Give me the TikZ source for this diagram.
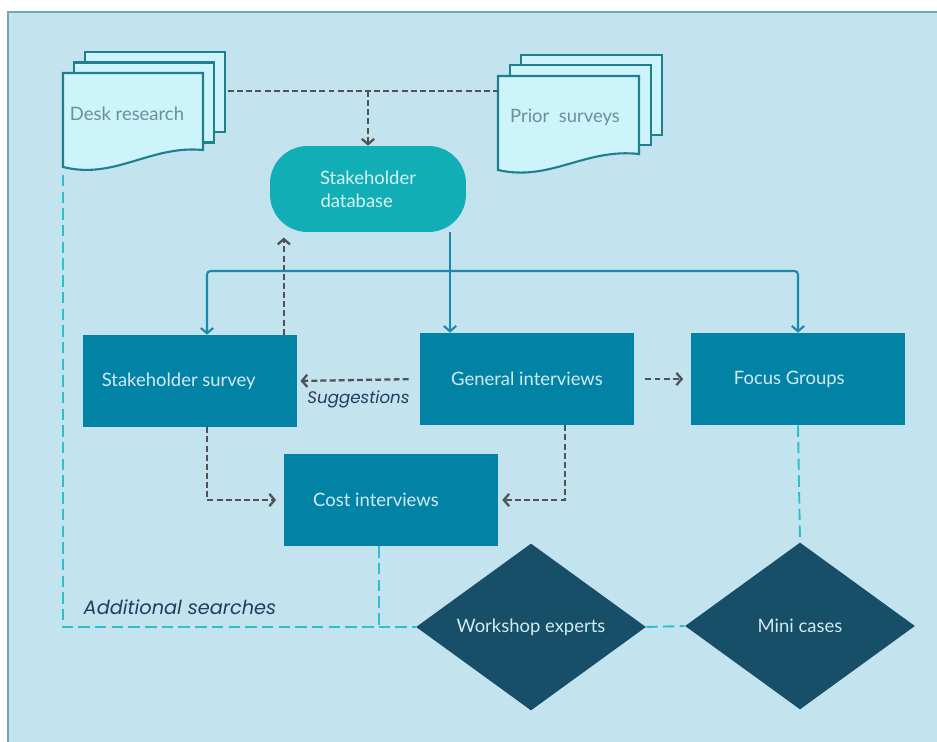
\documentclass[tikz,border=0pt]{standalone}
\usepackage{fontspec}
\setmainfont{Lato}
\newfontfamily\labelfont{Poppins}
\usetikzlibrary{shapes.geometric,arrows.meta,positioning}

\definecolor{bgblue}{HTML}{C3E3EF}
\definecolor{frameline}{HTML}{6FA9B3}
\definecolor{docfill}{HTML}{CDF3FB}
\definecolor{docline}{HTML}{1F7F8E}
\definecolor{doctext}{HTML}{6C8F9A}
\definecolor{dbteal}{HTML}{12AEB6}
\definecolor{dbtext}{HTML}{D8F3F3}
\definecolor{boxblue}{HTML}{0283A5}
\definecolor{boxtext}{HTML}{D2EAF2}
\definecolor{navydiamond}{HTML}{174F69}
\definecolor{flowteal}{HTML}{1A89AC}
\definecolor{flowgray}{HTML}{4F5358}
\definecolor{cyandash}{HTML}{2CC0CC}
\definecolor{labelnavy}{HTML}{283A5E}

\tikzset{
  docpage/.style={draw=docline, fill=docfill, line width=1.2pt},
  doclabel/.style={text=doctext, font=\fontsize{10.5}{12.6}\selectfont},
  dbnode/.style={fill=dbteal, rounded corners=0.75cm, minimum width=3.92cm,
    minimum height=1.72cm, text=dbtext, align=center,
    font=\fontsize{10.5}{13}\selectfont},
  stagebox/.style={fill=boxblue, minimum width=4.3cm, minimum height=1.84cm,
    text=boxtext, font=\fontsize{10.5}{12.6}\selectfont},
  expertdiamond/.style={diamond, fill=navydiamond, inner sep=0pt, aspect=1.4,
    minimum width=4.6cm, minimum height=3.34cm, text=boxtext,
    font=\fontsize{10.5}{12.6}\selectfont},
  grayarrow/.style={draw=flowgray, line width=1.3pt, dash pattern=on 3.4pt off 1.8pt,
    -{Straight Barb[length=3pt,width=7pt]}},
  grayline/.style={draw=flowgray, line width=1.3pt, dash pattern=on 3.4pt off 1.8pt},
  tealarrow/.style={draw=flowteal, line width=1.2pt, rounded corners=2pt,
    -{Straight Barb[length=3pt,width=7pt]}},
  cyanline/.style={draw=cyandash, line width=1.1pt, dash pattern=on 6.5pt off 3pt},
  flowlabel/.style={text=labelnavy, font=\labelfont\itshape\fontsize{9.5}{11}\selectfont}
}

\begin{document}
\begin{tikzpicture}[x=0.02cm, y=-0.02cm]
  \useasboundingbox (0,0) rectangle (937,742);
  \fill[bgblue] (8,12) rectangle (937,742);
  \draw[frameline, line width=0.8pt] (8,742) |- (937,12);

  % document stacks
  \foreach \dx/\dy in {22/-21, 11/-10.5}
    \draw[docpage] (63+\dx,73+\dy) rectangle ++(140,80);
  \draw[docpage] (63,167) -- (63,73) -- (203,73) -- (203,150)
    .. controls (150,145) and (115,180) .. cycle;
  \node[doclabel] (desk) at (127,114) {Desk research};

  \foreach \dx/\dy in {23/-21, 12/-11}
    \draw[docpage] (498+\dx,76+\dy) rectangle ++(141,80);
  \draw[docpage] (498,170) -- (498,76) -- (639,76) -- (639,154)
    .. controls (585,148) and (550,182) .. cycle;
  \node[doclabel] (prior) at (565,117) {Prior\ \ surveys};

  \coordinate (deskR) at (228,91);
  \coordinate (priorL) at (498,91);
  \coordinate (deskB) at (63,175);

  % stages
  \node[dbnode] (db) at (368,189) {Stakeholder\\database\hspace*{0.45cm}};
  \node[stagebox] (survey) at (190,381) {Stakeholder survey\hspace*{0.45cm}};
  \node[stagebox] (general) at (527,379) {General interviews};
  \node[stagebox] (focus) at (798,379) {Focus Groups\hspace*{0.35cm}};
  \node[stagebox] (cost) at (391,500) {Cost interviews\hspace*{0.6cm}};
  \node[expertdiamond] (workshop) at (531,627) {Workshop experts};
  \node[expertdiamond] (mini) at (800,626) {Mini cases};

  % inputs to the database
  \coordinate (merge) at (368,91);
  \draw[grayline] (deskR) -- (priorL);
  \draw[grayarrow] (merge) -- (db.north);
  \draw[grayarrow, shorten >=3pt] ([xshift=-0.28cm]survey.north east)
    -- ([xshift=-0.28cm]survey.north east |- db.south);

  % database to the stages
  \coordinate (split) at (450,271);
  \draw[tealarrow] ([xshift=1.64cm]db.south) -- ([xshift=1.64cm]db.south |- general.north);
  \draw[tealarrow] (split) -| ([xshift=0.34cm]survey.north);
  \draw[tealarrow] (split) -| (focus.north);

  % between the stages
  \draw[grayarrow, shorten <=6pt, shorten >=1.5pt] (general.west) -- (survey.east)
    node[flowlabel, midway, below=2pt] (sugg) {Suggestions};
  \draw[grayarrow, shorten <=6pt, shorten >=4pt] (general.east) -- (focus.west);
  \draw[grayarrow, shorten >=4pt] ([xshift=0.34cm]survey.south) |- (cost.west);
  \draw[grayarrow, shorten >=2pt] ([xshift=0.76cm]general.south) |- (cost.east);

  % additional searches
  \draw[cyanline] (deskB) |- (workshop.west);
  \draw[cyanline] ([xshift=-0.24cm]cost.south) -- ([xshift=-0.24cm]cost.south |- workshop.west);
  \draw[cyanline] (workshop.east) -- (mini.west);
  \draw[cyanline] (focus.south) -- (mini.north);
  \node[flowlabel, font=\labelfont\itshape\fontsize{11}{13}\selectfont] (extra) at (180,607) {Additional searches};
\end{tikzpicture}
\end{document}
